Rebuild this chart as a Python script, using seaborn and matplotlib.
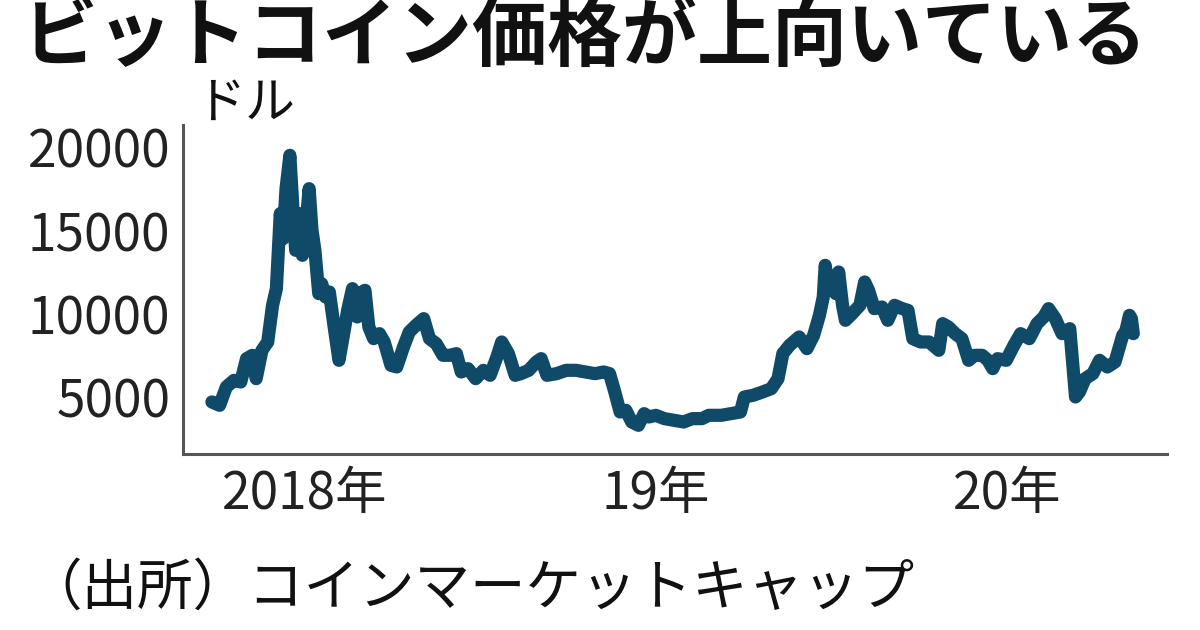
import matplotlib
matplotlib.use("Agg")
import matplotlib.pyplot as plt
import seaborn as sns
import pandas as pd

# ---- data (USD) ----
dates = [
    "2017-09-27", "2017-10-05", "2017-10-12", "2017-10-20", "2017-10-27", "2017-11-02",
    "2017-11-08", "2017-11-12", "2017-11-18", "2017-11-24", "2017-11-29", "2017-12-03",
    "2017-12-07", "2017-12-10", "2017-12-13", "2017-12-17", "2017-12-20", "2017-12-23",
    "2017-12-27", "2017-12-30", "2018-01-03", "2018-01-06", "2018-01-09", "2018-01-12",
    "2018-01-16", "2018-01-19", "2018-01-23", "2018-01-27", "2018-02-01", "2018-02-06",
    "2018-02-10", "2018-02-15", "2018-02-20", "2018-02-25", "2018-03-02", "2018-03-05",
    "2018-03-09", "2018-03-14", "2018-03-20", "2018-03-25", "2018-04-01", "2018-04-07",
    "2018-04-14", "2018-04-20", "2018-04-27", "2018-05-05", "2018-05-11", "2018-05-18",
    "2018-05-25", "2018-06-01", "2018-06-08", "2018-06-13", "2018-06-20", "2018-06-28",
    "2018-07-06", "2018-07-13", "2018-07-20", "2018-07-25", "2018-08-01", "2018-08-08",
    "2018-08-14", "2018-08-22", "2018-08-30", "2018-09-04", "2018-09-10", "2018-09-20",
    "2018-09-30", "2018-10-10", "2018-10-20", "2018-10-30", "2018-11-08", "2018-11-14",
    "2018-11-19", "2018-11-25", "2018-12-01", "2018-12-07", "2018-12-14", "2018-12-20",
    "2018-12-25", "2019-01-01", "2019-01-10", "2019-01-20", "2019-01-30", "2019-02-08",
    "2019-02-18", "2019-02-25", "2019-03-10", "2019-03-20", "2019-03-30", "2019-04-03",
    "2019-04-12", "2019-04-22", "2019-05-01", "2019-05-08", "2019-05-13", "2019-05-20",
    "2019-05-30", "2019-06-07", "2019-06-14", "2019-06-20", "2019-06-24", "2019-06-26",
    "2019-06-29", "2019-07-03", "2019-07-07", "2019-07-10", "2019-07-14", "2019-07-17",
    "2019-07-24", "2019-08-01", "2019-08-06", "2019-08-10", "2019-08-16", "2019-08-24",
    "2019-08-30", "2019-09-06", "2019-09-14", "2019-09-20", "2019-09-25", "2019-10-03",
    "2019-10-12", "2019-10-22", "2019-10-26", "2019-11-01", "2019-11-08", "2019-11-15",
    "2019-11-22", "2019-11-28", "2019-12-06", "2019-12-12", "2019-12-17", "2019-12-22",
    "2019-12-31", "2020-01-08", "2020-01-15", "2020-01-24", "2020-02-01", "2020-02-08",
    "2020-02-13", "2020-02-20", "2020-02-27", "2020-03-06", "2020-03-12", "2020-03-16",
    "2020-03-22", "2020-03-30", "2020-04-06", "2020-04-14", "2020-04-22", "2020-04-30",
    "2020-05-03", "2020-05-07", "2020-05-09", "2020-05-11",
]
prices = [
    4700, 4500, 5600, 6000, 5900, 7300,
    7500, 6100, 7800, 8300, 10500, 11500,
    16000, 14500, 17500, 19500, 16500, 13800,
    16000, 13500, 15500, 17500, 15000, 13800,
    11200, 11800, 11000, 11300, 9200, 7200,
    8500, 10200, 11500, 9800, 11300, 11400,
    9200, 8500, 8800, 8300, 6900, 6800,
    8000, 8900, 9300, 9700, 8500, 8200,
    7500, 7500, 7600, 6500, 6700, 6100,
    6600, 6300, 7400, 8300, 7600, 6300,
    6400, 6600, 7100, 7300, 6300, 6400,
    6600, 6600, 6500, 6400, 6500, 6400,
    5400, 4100, 4200, 3500, 3300, 4000,
    3800, 3900, 3700, 3600, 3500, 3700,
    3700, 3900, 3900, 4000, 4100, 5000,
    5100, 5300, 5500, 6100, 7600, 8100,
    8600, 7900, 8700, 9900, 11000, 12900,
    11800, 11800, 11200, 12500, 10500, 9600,
    10000, 10500, 11900, 11400, 10300, 10400,
    9600, 10500, 10300, 10200, 8500, 8300,
    8300, 7800, 9400, 9200, 8800, 8500,
    7200, 7500, 7500, 7200, 6700, 7300,
    7200, 8100, 8800, 8500, 9400, 9800,
    10300, 9700, 8800, 9100, 5000, 5300,
    6100, 6400, 7200, 6800, 7100, 8700,
    8900, 9900, 9700, 8800,
]

title_text = "ビットコイン価格が上向いている"
unit_text = "ドル"
source_text = "（出所）コインマーケットキャップ"
y_ticks = [5000, 10000, 15000, 20000]
x_tick_dates = ["2018-01-01", "2019-01-01", "2020-01-01"]
x_tick_labels = ["2018年", "19年", "20年"]

df = pd.DataFrame({"date": pd.to_datetime(dates), "price": prices})

sns.set_style("white")
plt.rcParams["font.family"] = ["Noto Sans CJK JP", "DejaVu Sans"]

fig = plt.figure(figsize=(12, 6.3), dpi=100)
ax = fig.add_axes([0.1525, 0.2794, 0.82, 0.5222])

line_color = "#0f4a68"
sns.lineplot(data=df, x="date", y="price", ax=ax, color=line_color,
             linewidth=9.5, solid_joinstyle="round", solid_capstyle="round")

ax.set_xlim(pd.Timestamp("2017-08-28"), pd.Timestamp("2020-06-15"))
ax.set_ylim(1580, 21320)

ax.set_yticks(y_ticks)
ax.set_yticklabels([str(v) for v in y_ticks])
ax.set_xticks(pd.to_datetime(x_tick_dates))
ax.set_xticklabels(x_tick_labels)

ax.set_xlabel("")
ax.set_ylabel("")

for side in ["top", "right"]:
    ax.spines[side].set_visible(False)
for side in ["left", "bottom"]:
    ax.spines[side].set_color("#555555")
    ax.spines[side].set_linewidth(2.2)

ax.tick_params(axis="both", direction="in", length=10, width=2.2,
               color="#333333", labelsize=37, labelcolor="#222222")
ax.tick_params(axis="y", pad=9)
ax.tick_params(axis="x", pad=10)

fig.text(0.018, 1.0, title_text, ha="left", va="top", fontsize=54,
         fontweight="bold", color="#111111")
fig.text(0.163, 0.835, unit_text, ha="left", va="center", fontsize=36,
         color="#111111")
fig.text(0.022, 0.065, source_text, ha="left", va="center", fontsize=40,
         color="#111111")

fig.savefig("out.png", dpi=100, facecolor="white")
